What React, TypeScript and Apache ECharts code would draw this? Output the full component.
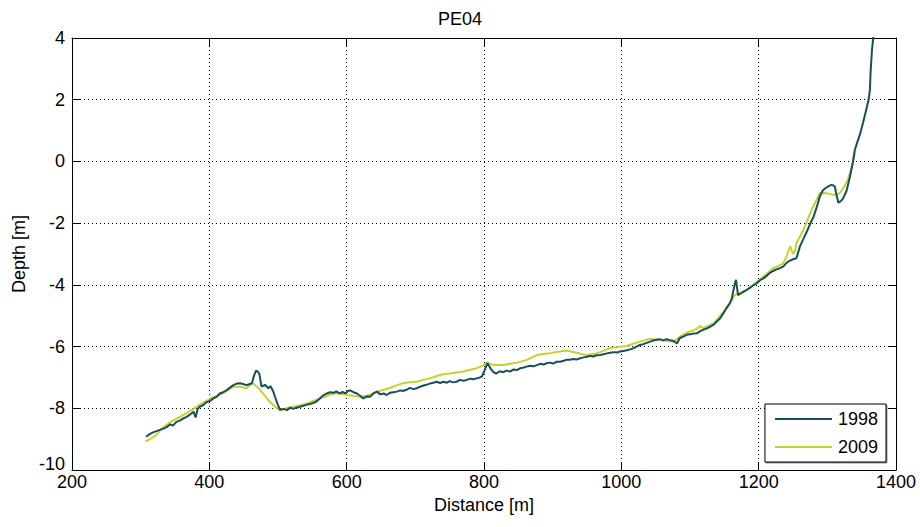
import React, { useEffect, useRef } from "react";
import * as echarts from "echarts";

const title = "PE04";
const xName = "Distance [m]";
const yName = "Depth [m]";
const seriesNames = ["1998", "2009"];

const dist1998 = [
  308, 313, 318, 323, 328, 333, 338, 343, 347, 352, 357, 362, 367, 372, 377, 380, 383, 386, 391, 396,
  401, 406, 411, 415, 420, 425, 430, 435, 440, 445, 450, 454, 458, 462, 465, 468, 471, 473, 476, 481,
  486, 489, 493, 496, 500, 503, 508, 513, 518, 522, 527, 532, 537, 542, 547, 552, 556, 561, 566, 571,
  576, 581, 585, 590, 594, 598, 602, 605, 610, 615, 620, 624, 629, 634, 639, 644, 649, 654, 658, 663,
  668, 673, 678, 682, 687, 692, 697, 702, 707, 712, 716, 721, 726, 731, 736, 741, 746, 750, 755, 760,
  765, 770, 775, 780, 785, 789, 794, 797, 801, 805, 808, 811, 815, 818, 823, 828, 833, 838, 843, 848,
  853, 858, 862, 867, 872, 877, 882, 887, 891, 896, 901, 906, 911, 916, 920, 925, 930, 935, 940, 945,
  950, 954, 959, 964, 969, 974, 979, 984, 989, 994, 998, 1003, 1008, 1013, 1018, 1022, 1027, 1032, 1037, 1042,
  1047, 1051, 1056, 1061, 1066, 1071, 1076, 1081, 1085, 1090, 1095, 1100, 1105, 1110, 1115, 1119, 1124, 1129, 1134, 1139,
  1144, 1148, 1153, 1158, 1161, 1163, 1166, 1167, 1169, 1170, 1174, 1178, 1183, 1187, 1192, 1197, 1202, 1207, 1212, 1216,
  1221, 1226, 1231, 1236, 1241, 1245, 1250, 1255, 1260, 1265, 1270, 1275, 1280, 1285, 1289, 1293, 1297, 1302, 1306, 1309,
  1311, 1313, 1316, 1320, 1323, 1328, 1333, 1337, 1340, 1344, 1348, 1352, 1356, 1360, 1362, 1363, 1365, 1367, 1368,
];
const depth1998 = [
  -8.92, -8.84, -8.78, -8.74, -8.7, -8.66, -8.61, -8.52, -8.56, -8.44, -8.4, -8.33, -8.28, -8.2, -8.11, -8.3, -8.02, -7.95, -7.9, -7.8,
  -7.76, -7.68, -7.62, -7.52, -7.48, -7.42, -7.33, -7.25, -7.2, -7.19, -7.22, -7.25, -7.22, -7.19, -6.95, -6.78, -6.82, -6.9, -7.3, -7.24,
  -7.35, -7.28, -7.45, -7.65, -7.9, -8.05, -8.02, -8.06, -7.98, -8.02, -7.98, -7.95, -7.92, -7.88, -7.86, -7.82, -7.78, -7.68, -7.58, -7.52,
  -7.48, -7.5, -7.45, -7.52, -7.47, -7.52, -7.44, -7.42, -7.48, -7.52, -7.6, -7.68, -7.62, -7.63, -7.52, -7.46, -7.55, -7.52, -7.57, -7.5,
  -7.48, -7.46, -7.42, -7.44, -7.4, -7.34, -7.38, -7.35, -7.3, -7.26, -7.24, -7.2, -7.17, -7.14, -7.18, -7.14, -7.17, -7.12, -7.16, -7.14,
  -7.08, -7.11, -7.08, -7.04, -7.06, -7.03, -7.0, -6.97, -6.76, -6.54, -6.65, -6.76, -6.85, -6.87, -6.8, -6.83, -6.78, -6.81, -6.74, -6.76,
  -6.7, -6.68, -6.65, -6.62, -6.64, -6.6, -6.56, -6.58, -6.54, -6.52, -6.55, -6.49, -6.49, -6.46, -6.43, -6.43, -6.4, -6.42, -6.38, -6.35,
  -6.33, -6.3, -6.32, -6.28, -6.27, -6.25, -6.22, -6.2, -6.18, -6.19, -6.16, -6.14, -6.12, -6.09, -6.05, -6.0, -5.95, -5.92, -5.88, -5.84,
  -5.8, -5.78, -5.76, -5.8, -5.76, -5.79, -5.82, -5.9, -5.73, -5.68, -5.62, -5.6, -5.58, -5.57, -5.5, -5.46, -5.42, -5.36, -5.3, -5.19,
  -5.08, -4.94, -4.76, -4.6, -4.43, -4.2, -3.9, -3.84, -4.17, -4.33, -4.28, -4.22, -4.16, -4.1, -4.02, -3.95, -3.85, -3.79, -3.7, -3.62,
  -3.55, -3.5, -3.46, -3.4, -3.28, -3.22, -3.17, -3.14, -2.76, -2.52, -2.28, -2.02, -1.79, -1.45, -1.14, -0.95, -0.87, -0.8, -0.76, -0.78,
  -0.82, -1.05, -1.34, -1.28, -1.2, -0.95, -0.49, -0.05, 0.37, 0.65, 0.91, 1.25, 1.62, 1.99, 2.31, 2.9, 3.61, 4.04, 4.4,
];

const dist2009 = [
  307, 315, 323, 328, 333, 340, 347, 357, 367, 377, 386, 396, 406, 413, 420, 428, 435, 445, 454, 459,
  463, 468, 474, 481, 488, 496, 503, 512, 522, 532, 542, 551, 561, 571, 580, 588, 595, 602, 610, 617,
  624, 631, 639, 646, 653, 661, 668, 675, 682, 692, 702, 711, 721, 728, 736, 743, 750, 760, 770, 780,
  789, 794, 799, 805, 809, 814, 821, 828, 838, 848, 855, 862, 870, 877, 886, 896, 904, 911, 920, 928,
  935, 942, 950, 957, 964, 974, 984, 996, 1008, 1018, 1027, 1035, 1042, 1049, 1056, 1066, 1076, 1083, 1089, 1093,
  1099, 1105, 1110, 1115, 1119, 1126, 1134, 1141, 1149, 1155, 1161, 1165, 1170, 1178, 1185, 1192, 1200, 1207, 1214, 1221,
  1226, 1231, 1236, 1241, 1246, 1250, 1253, 1255, 1260, 1265, 1271, 1277, 1283, 1289, 1294, 1299, 1305, 1311, 1315, 1318,
  1322, 1326, 1330, 1333, 1337, 1340,
];
const depth2009 = [
  -9.07, -8.98, -8.86, -8.72, -8.61, -8.5, -8.4, -8.28, -8.16, -8.02, -7.89, -7.76, -7.64, -7.58, -7.51, -7.4, -7.3, -7.3, -7.35, -7.25,
  -7.19, -7.28, -7.4, -7.6, -7.79, -7.95, -8.07, -8.0, -7.95, -7.9, -7.84, -7.76, -7.68, -7.6, -7.52, -7.52, -7.54, -7.57, -7.6, -7.62,
  -7.62, -7.58, -7.51, -7.45, -7.41, -7.35, -7.3, -7.24, -7.19, -7.16, -7.14, -7.08, -7.03, -6.98, -6.92, -6.89, -6.87, -6.84, -6.81, -6.75,
  -6.7, -6.66, -6.6, -6.52, -6.56, -6.6, -6.6, -6.6, -6.56, -6.52, -6.48, -6.43, -6.35, -6.27, -6.24, -6.22, -6.18, -6.16, -6.13, -6.17,
  -6.2, -6.24, -6.27, -6.25, -6.22, -6.14, -6.05, -6.01, -5.98, -5.9, -5.84, -5.79, -5.75, -5.77, -5.79, -5.82, -5.84, -5.72, -5.62, -5.57,
  -5.52, -5.48, -5.42, -5.33, -5.41, -5.33, -5.25, -5.08, -4.87, -4.68, -4.49, -4.33, -4.28, -4.22, -4.12, -4.0, -3.86, -3.73, -3.6, -3.46,
  -3.42, -3.36, -3.3, -3.05, -2.74, -3.0, -2.9, -2.65, -2.44, -2.22, -1.9, -1.57, -1.3, -1.03, -1.02, -1.03, -1.06, -1.09, -1.06, -1.03,
  -0.9, -0.76, -0.58, -0.38, -0.05, 0.27,
];

const xMin = 200, xMax = 1400, xStep = 200;
const yMin = -10, yMax = 4, yStep = 2;

const FONT = "Liberation Sans, Arial, sans-serif";
const C1998 = "#17505c";
const C2009 = "#c6d22c";

export default function App() {
  const ref = useRef<HTMLDivElement>(null);
  useEffect(() => {
    if (!ref.current) return;
    const chart = echarts.init(ref.current, null, { renderer: "svg" });
    const tick = { show: true, inside: true, length: 8, lineStyle: { color: "#000", width: 1 } };
    const split = { show: true, lineStyle: { color: "#000", type: [1, 3] as any, width: 1 } };
    const axisLine = { show: true, onZero: false, lineStyle: { color: "#000", width: 1 } };
    const lbl = { color: "#000", fontFamily: FONT, fontSize: 18 };
    chart.setOption({
      animation: false,
      backgroundColor: "#fff",
      title: {
        text: title,
        left: "center",
        top: 5,
        textStyle: { color: "#000", fontFamily: FONT, fontSize: 18, fontWeight: "normal" },
      },
      grid: { left: 72, right: 24, top: 38, bottom: 57, containLabel: false },
      legend: {
        orient: "vertical",
        right: 34,
        bottom: 65,
        backgroundColor: "#fff",
        borderColor: "#000",
        borderWidth: 1,
        shadowColor: "rgba(0,0,0,0.45)",
        shadowOffsetX: 1,
        shadowOffsetY: 1,
        shadowBlur: 1,
        padding: [6, 8, 6, 10],
        itemGap: 10,
        itemWidth: 57,
        itemHeight: 2,
        icon: "rect",
        textStyle: { ...lbl, padding: [0, 0, 0, 1] },
        data: seriesNames,
      },
      xAxis: [
        {
          type: "value",
          min: xMin,
          max: xMax,
          interval: xStep,
          name: xName,
          nameLocation: "middle",
          nameGap: 22,
          nameTextStyle: { ...lbl },
          axisLine,
          axisTick: tick,
          axisLabel: { ...lbl, margin: 3, formatter: (v: number) => String(v) },
          splitLine: split,
        },
        {
          type: "value",
          position: "top",
          min: xMin,
          max: xMax,
          interval: xStep,
          axisLine,
          axisTick: tick,
          axisLabel: { show: false },
          splitLine: { show: false },
        },
      ],
      yAxis: [
        {
          type: "value",
          min: yMin,
          max: yMax,
          interval: yStep,
          name: yName,
          nameLocation: "middle",
          nameGap: 44,
          nameTextStyle: { ...lbl },
          axisLine,
          axisTick: tick,
          axisLabel: {
            ...lbl,
            margin: 7,
            formatter: (v: number) => (v === yMin ? `{low|${v}}` : String(v)),
            rich: { low: { ...lbl, padding: [0, 0, 12, 0] } },
          },
          splitLine: split,
        },
        {
          type: "value",
          position: "right",
          min: yMin,
          max: yMax,
          interval: yStep,
          axisLine,
          axisTick: tick,
          axisLabel: { show: false },
          splitLine: { show: false },
        },
      ],
      series: [
        {
          name: seriesNames[0],
          type: "line",
          symbol: "none",
          clip: true,
          data: dist1998.map((d, i) => [d, depth1998[i]]),
          lineStyle: { color: C1998, width: 2 },
          itemStyle: { color: C1998 },
          z: 3,
        },
        {
          name: seriesNames[1],
          type: "line",
          symbol: "none",
          clip: true,
          data: dist2009.map((d, i) => [d, depth2009[i]]),
          lineStyle: { color: C2009, width: 2 },
          itemStyle: { color: C2009 },
          z: 2,
        },
      ],
    });
    return () => chart.dispose();
  }, []);
  return (
    <div
      ref={ref}
      style={{ position: "fixed", left: 0, top: 0, width: 920, height: 527 }}
    />
  );
}
